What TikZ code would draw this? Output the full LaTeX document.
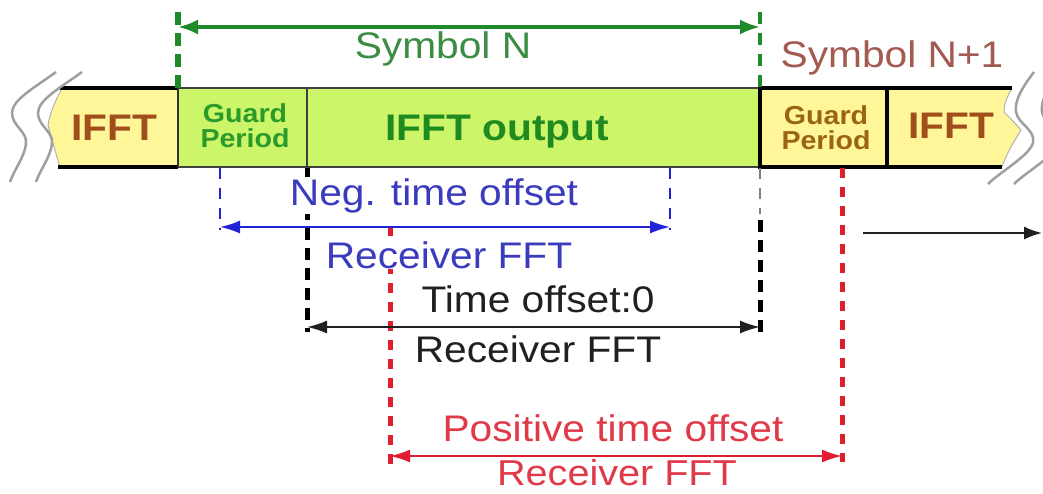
\documentclass[tikz,border=0pt]{standalone}
\usepackage{fontspec}
\setmainfont[FakeStretch=1.1]{Liberation Sans}
\usetikzlibrary{arrows.meta}
\definecolor{limefill}{HTML}{CCF56A}
\definecolor{yelfill}{HTML}{FFF69A}
\definecolor{symg}{HTML}{3C8C44}
\definecolor{outg}{HTML}{1F8A1F}
\definecolor{gpg}{HTML}{2A9A2A}
\definecolor{linegreen}{HTML}{1E8A2A}
\definecolor{brn}{HTML}{A04F1C}
\definecolor{brny}{HTML}{9A6410}
\definecolor{symb}{HTML}{A35A50}
\definecolor{blut}{HTML}{3B3BBE}
\definecolor{blul}{HTML}{2222D8}
\definecolor{redt}{HTML}{E03A48}
\definecolor{redl}{HTML}{E01E2E}
\definecolor{blk}{HTML}{202020}
\begin{document}
\begin{tikzpicture}[x=1pt,y=-1pt,
  lbl/.style={inner sep=1pt, anchor=base, font=\fontsize{37}{40}\selectfont},
  gbox/.style={draw=black!75, line width=1.5pt, fill=limefill, minimum height=79pt, inner sep=0pt},
  ybox/.style={draw=black, line width=4pt, fill=yelfill, minimum height=79pt, inner sep=0pt},
  gpfont/.style={font=\bfseries\fontsize{26}{25}\selectfont, align=center, inner sep=0pt},
  bigbold/.style={inner sep=0pt, anchor=base, font=\bfseries\fontsize{37}{40}\selectfont},
  brk/.style={draw=gray!75, line width=2.5pt},
  gdash/.style={draw=linegreen, line width=6pt, dash pattern=on 13pt off 8pt},
  gdashthin/.style={draw=linegreen, line width=3.5pt, dash pattern=on 12pt off 9pt},
  bdash/.style={draw=blul, line width=2pt, dash pattern=on 11pt off 9pt},
  kdash/.style={draw=black, line width=5pt, dash pattern=on 12pt off 8pt},
  kdashthin/.style={draw=gray, line width=2pt, dash pattern=on 11pt off 9pt},
  rdash/.style={draw=redl, line width=5pt, dash pattern=on 10pt off 9pt},
  dimarrow/.style={line width=1.8pt, {Latex[length=20pt,width=13pt]}-{Latex[length=20pt,width=13pt]}}
]
\useasboundingbox (0,0) rectangle (1043,493);
\fill[white] (0,0) rectangle (1043,493);

% ---- bar: green boxes
\node[gbox, minimum width=129pt] (gp1) at (242.5,127.5) {};
\node[gbox, minimum width=453pt] (out) at (533.5,127.5) {};

% ---- left IFFT (yellow, broken edge)
\fill[yelfill] (62,88) .. controls (56,100) and (50,112) .. (48,125) .. controls (52,140) and (56,154) .. (60,167) -- (178,167) -- (178,88) -- cycle;
\draw[gray!60, line width=1pt] (62,88) .. controls (56,100) and (50,112) .. (48,125) .. controls (52,140) and (56,154) .. (60,167);
\draw[line width=4pt] (60,88) -- (178,88);
\draw[line width=4pt] (58,167) -- (178,167);
\draw[black!80, line width=2pt] (178,88) -- (178,167);

% ---- right IFFT (yellow, broken edge)
\fill[yelfill] (887,88) -- (1012,88) .. controls (1007,97) and (1004,104) .. (1004,112) .. controls (1010,118) and (1016,124) .. (1021,130) .. controls (1013,143) and (1006,155) .. (1002,167) -- (887,167) -- cycle;
\draw[gray!60, line width=1pt] (1012,88) .. controls (1007,97) and (1004,104) .. (1004,112) .. controls (1010,118) and (1016,124) .. (1021,130) .. controls (1013,143) and (1006,155) .. (1002,167);
\draw[line width=4pt] (887,88) -- (1012,88);
\draw[line width=4pt] (887,167) -- (1002,167);
\node[ybox, minimum width=127pt] (gp2) at (823.5,127.5) {};

% ---- break marks
\draw[brk] (56,72) .. controls (34,88) and (12,100) .. (12,113) .. controls (12,126) and (28,132) .. (26,144) .. controls (24,158) and (14,170) .. (10,182);
\draw[brk] (82,72) .. controls (60,88) and (38,100) .. (38,113) .. controls (38,126) and (54,132) .. (52,144) .. controls (50,158) and (40,170) .. (36,182);
\draw[brk] (1034,72) .. controls (1024,85) and (1014,100) .. (1016,112) .. controls (1018,124) and (1036,130) .. (1033,143) .. controls (1029,156) and (1000,172) .. (988,184);
\draw[brk] (1060,72) .. controls (1050,85) and (1040,100) .. (1042,112) .. controls (1044,124) and (1062,130) .. (1059,143) .. controls (1055,156) and (1026,172) .. (1014,184);

% ---- bar texts
\node[bigbold, text=brn] (ifftL) at (114,140) {IFFT};
\node[gpfont, text=gpg] (gpt1) at (245,126) {Guard\\Period};
\node[bigbold, text=outg] (outt) at (497,140) {IFFT output};
\node[gpfont, text=brny] (gpt2) at (826,128) {Guard\\Period};
\node[bigbold, text=brn] (ifftR) at (951,138) {IFFT};

% ---- symbol markers (green)
\coordinate (g1t) at (178,12);
\coordinate (g1b) at (178,88);
\coordinate (g2t) at (760,12);
\coordinate (g2b) at (760,88);
\draw[gdash] (g1t) -- (g1b);
\draw[gdashthin] (g2t) -- (g2b);
\coordinate (ga1) at (178,27);
\coordinate (ga2) at (760,27);
\draw[draw=linegreen, line width=3.5pt, {Latex[length=20pt,width=15pt]}-{Latex[length=20pt,width=15pt]}] (ga1) -- (ga2);
\node[lbl, text=symg] (symN) at (443,58) {Symbol N};
\node[lbl, text=symb] (symN1) at (892,67) {Symbol N+1};

% ---- negative offset (blue)
\coordinate (b1t) at (220,168);
\coordinate (b1b) at (220,230);
\coordinate (b2t) at (670,168);
\coordinate (b2b) at (670,230);
\draw[bdash] (b1t) -- (b1b);
\draw[bdash] (b2t) -- (b2b);

% ---- zero offset (black)
\coordinate (k1t) at (307,168);
\coordinate (k1b) at (307,332);
\coordinate (k2t) at (760,168);
\coordinate (k2m) at (760,214);
\coordinate (k2u) at (760,220);
\coordinate (k2b) at (760,334);
\draw[kdash] (k1t) -- (k1b);
\draw[kdashthin] (k2t) -- (k2m);
\draw[kdash] (k2u) -- (k2b);

% ---- positive offset (red)
\coordinate (r1t) at (390,226);
\coordinate (r1b) at (390,464);
\coordinate (r2t) at (842,168);
\coordinate (r2b) at (842,462);
\draw[rdash] (r1t) -- (r1b);
\draw[rdash] (r2t) -- (r2b);

% ---- labels with white backing
\node[lbl, text=blut, fill=white] (negt) at (434,205) {Neg. time offset};
\node[lbl, text=blut, fill=white] (rfb) at (449,268) {Receiver FFT};
\node[lbl, text=blk] (zt) at (538,312) {Time offset:0};
\node[lbl, text=blk] (rfk) at (538,362) {Receiver FFT};
\node[lbl, text=redt] (pt) at (613,441) {Positive time offset};
\node[lbl, text=redt, font=\fontsize{36}{40}\selectfont] (rfr) at (617,485) {Receiver FFT};

% ---- dimension arrows
\coordinate (ba1) at (220,227);
\coordinate (ba2) at (670,227);
\draw[dimarrow, draw=blul, fill=blul] (ba1) -- (ba2);
\coordinate (ka1) at (307,327);
\coordinate (ka2) at (760,327);
\draw[dimarrow, draw=blk, fill=blk] (ka1) -- (ka2);
\coordinate (ra1) at (390,456);
\coordinate (ra2) at (842,456);
\draw[dimarrow, draw=redl, fill=redl] (ra1) -- (ra2);

% ---- time arrow
\coordinate (t1) at (863,233);
\coordinate (t2) at (1042,233);
\draw[line width=1.8pt, draw=blk, -{Latex[length=18pt,width=13pt]}] (t1) -- (t2);
\end{tikzpicture}
\end{document}
